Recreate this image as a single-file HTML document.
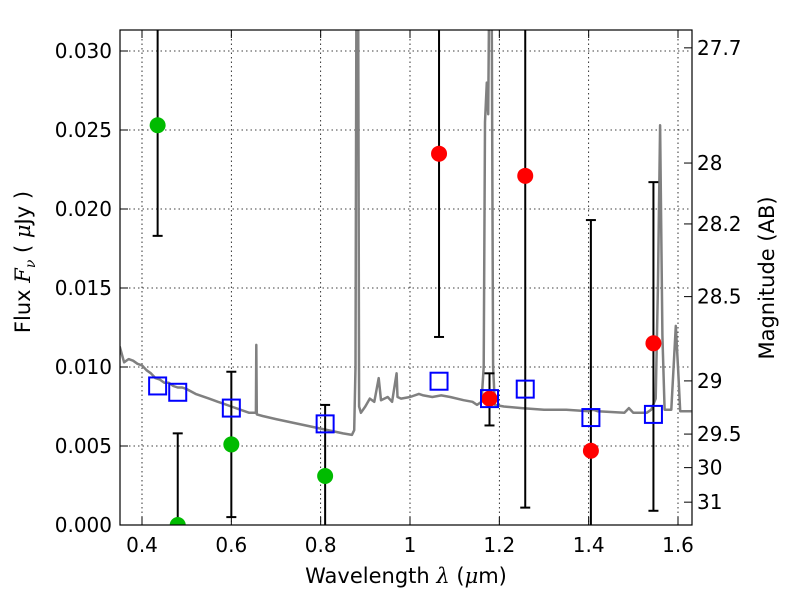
<!DOCTYPE html>
<html><head><meta charset="utf-8"><style>
html,body{margin:0;padding:0;background:#fff;}
svg{display:block;font-family:"DejaVu Sans","Liberation Sans",sans-serif;}
</style></head><body>
<svg id="chart" width="800" height="600" viewBox="0 0 800 600" xmlns="http://www.w3.org/2000/svg">
<defs><clipPath id="clip"><rect x="120" y="30" width="572" height="495"/></clipPath></defs>
<g id="grid"></g>
<g id="spec" clip-path="url(#clip)"></g>
<g id="marks" clip-path="url(#clip)"></g>
<rect x="120" y="30" width="572" height="495" fill="none" stroke="#000" stroke-width="1.2"/>
<g id="axes"></g>
<text x="406" y="583" font-size="21" text-anchor="middle">Wavelength  <tspan font-style="italic" font-family="DejaVu Serif, serif">λ</tspan> (<tspan font-style="italic" font-family="DejaVu Serif, serif">μ</tspan>m)</text>
<text transform="translate(30,262) rotate(-90)" font-size="21" text-anchor="middle">Flux  <tspan font-style="italic" font-family="DejaVu Serif, serif">F</tspan><tspan font-style="italic" font-size="14" font-family="DejaVu Serif, serif" dy="5">ν</tspan><tspan dy="-5">  ( </tspan><tspan font-style="italic" font-family="DejaVu Serif, serif">μ</tspan>Jy )</text>
<text transform="translate(774,278) rotate(-90)" font-size="21" text-anchor="middle">Magnitude (AB)</text>
</svg>
<script>
const xTicks=[0.4,0.6,0.8,1.0,1.2,1.4,1.6];
const xTickLabels=["0.4","0.6","0.8","1","1.2","1.4","1.6"];
const yTicks=[0,0.005,0.010,0.015,0.020,0.025,0.030];
const yTickLabels=["0.000","0.005","0.010","0.015","0.020","0.025","0.030"];
const magTicks=[27.7,28,28.2,28.5,29,29.5,30,31];
const magTickLabels=["27.7","28","28.2","28.5","29","29.5","30","31"];
const specWave=[0.35,0.36,0.37,0.38,0.39,0.40,0.41,0.42,0.43,0.44,0.45,0.46,0.47,0.48,0.49,0.50,0.52,0.55,0.57,0.58,0.60,0.62,0.64,0.655,0.656,0.657,0.67,0.70,0.75,0.80,0.85,0.87,0.875,0.878,0.880,0.884,0.886,0.89,0.90,0.91,0.92,0.93,0.935,0.95,0.96,0.97,0.972,0.98,1.0,1.02,1.03,1.05,1.07,1.09,1.12,1.14,1.15,1.16,1.165,1.168,1.172,1.175,1.177,1.183,1.186,1.19,1.21,1.25,1.30,1.35,1.40,1.41,1.42,1.48,1.49,1.50,1.53,1.54,1.55,1.555,1.56,1.565,1.57,1.585,1.595,1.60,1.605,1.63];
const specFlux=[0.0113,0.0103,0.0105,0.0104,0.0102,0.0101,0.0098,0.0096,0.0093,0.0092,0.0090,0.0090,0.0088,0.0087,0.0087,0.0086,0.0083,0.0080,0.0078,0.0077,0.0075,0.0073,0.0071,0.0071,0.0114,0.0070,0.0069,0.0067,0.0064,0.0061,0.0058,0.0057,0.0060,0.0100,0.033,0.033,0.0075,0.0071,0.0075,0.0080,0.0078,0.0093,0.0079,0.0081,0.0078,0.0096,0.0081,0.0080,0.0081,0.0083,0.0082,0.0081,0.0082,0.0081,0.0079,0.0078,0.0076,0.0078,0.0100,0.0255,0.0280,0.0260,0.033,0.033,0.0100,0.0076,0.0075,0.0074,0.0073,0.0073,0.0072,0.0073,0.0072,0.0071,0.0074,0.0071,0.0071,0.0073,0.0080,0.0150,0.0253,0.0120,0.0073,0.0073,0.0126,0.0100,0.0072,0.0072];
const obsWave=[0.435,0.48,0.60,0.81,1.065,1.178,1.258,1.405,1.545];
const obsFlux=[0.0253,0.0,0.0051,0.0031,0.0235,0.0080,0.0221,0.0047,0.0115];
const errLow=[0.0183,-0.001,0.0005,-0.002,0.0119,0.0063,0.0011,-0.002,0.0009];
const errHigh=[0.040,0.0058,0.0097,0.0076,0.040,0.0096,0.040,0.0193,0.0217];
const obsColor=["#00bb00","#00bb00","#00bb00","#00bb00","red","red","red","red","red"];
const modelFlux=[0.0088,0.0084,0.0074,0.0064,0.0091,0.0080,0.0086,0.0068,0.0070];
const NS="http://www.w3.org/2000/svg";
const X=w=>142+(w-0.4)*(536/1.2);
const Y=f=>525-f*15800;
function el(t,a,p){const e=document.createElementNS(NS,t);for(const k in a)e.setAttribute(k,a[k]);p.appendChild(e);return e;}
const grid=document.getElementById('grid'),axes=document.getElementById('axes'),spec=document.getElementById('spec'),marks=document.getElementById('marks');
xTicks.forEach((t,i)=>{const x=X(t);
 const g=el('line',{x1:x,x2:x,y1:30,y2:525,stroke:'#000','stroke-width':0.8,'stroke-dasharray':'1.5,3'},grid);
 
 el('line',{x1:x,x2:x,y1:525,y2:517,stroke:'#000'},axes);el('line',{x1:x,x2:x,y1:30,y2:38,stroke:'#000'},axes);
 const tx=el('text',{x:x,y:552,'font-size':20,'text-anchor':'middle'},axes);tx.textContent=xTickLabels[i];
 });
yTicks.forEach((t,i)=>{const y=Y(t);
 const g=el('line',{x1:120,x2:692,y1:y,y2:y,stroke:'#000','stroke-width':0.8,'stroke-dasharray':'1.5,3'},grid);
 
 el('line',{x1:120,x2:128,y1:y,y2:y,stroke:'#000'},axes);
 const tx=el('text',{x:112,y:y+7,'font-size':20,'text-anchor':'end'},axes);tx.textContent=yTickLabels[i];
 });
magTicks.forEach((m,i)=>{const y=Y(Math.pow(10,(23.9-m)/2.5));
 el('line',{x1:684,x2:692,y1:y,y2:y,stroke:'#000'},axes);
 const tx=el('text',{x:697,y:y+7,'font-size':20},axes);tx.textContent=magTickLabels[i];
 });
const sp=el('polyline',{points:specWave.map((w,i)=>X(w).toFixed(1)+','+Y(specFlux[i]).toFixed(1)).join(' '),fill:'none',stroke:'#808080','stroke-width':2.5,'stroke-linejoin':'round'},spec);

obsWave.forEach((w,i)=>{const x=X(w);
 const eb=el('line',{x1:x,x2:x,y1:Y(errLow[i]),y2:Y(errHigh[i]),stroke:'#000','stroke-width':2},marks);
 
 [errLow[i],errHigh[i]].forEach(v=>el('line',{x1:x-5,x2:x+5,y1:Y(v),y2:Y(v),stroke:'#000','stroke-width':2},marks));
});
obsWave.forEach((w,i)=>{
 const c=el('circle',{cx:X(w),cy:Y(obsFlux[i]),r:8,fill:obsColor[i]},marks);
 
});
obsWave.forEach((w,i)=>{
 const s=el('rect',{x:X(w)-8.5,y:Y(modelFlux[i])-8.5,width:17,height:17,fill:'none',stroke:'#0000ff','stroke-width':2},marks);
 
});
</script>
</body></html>
